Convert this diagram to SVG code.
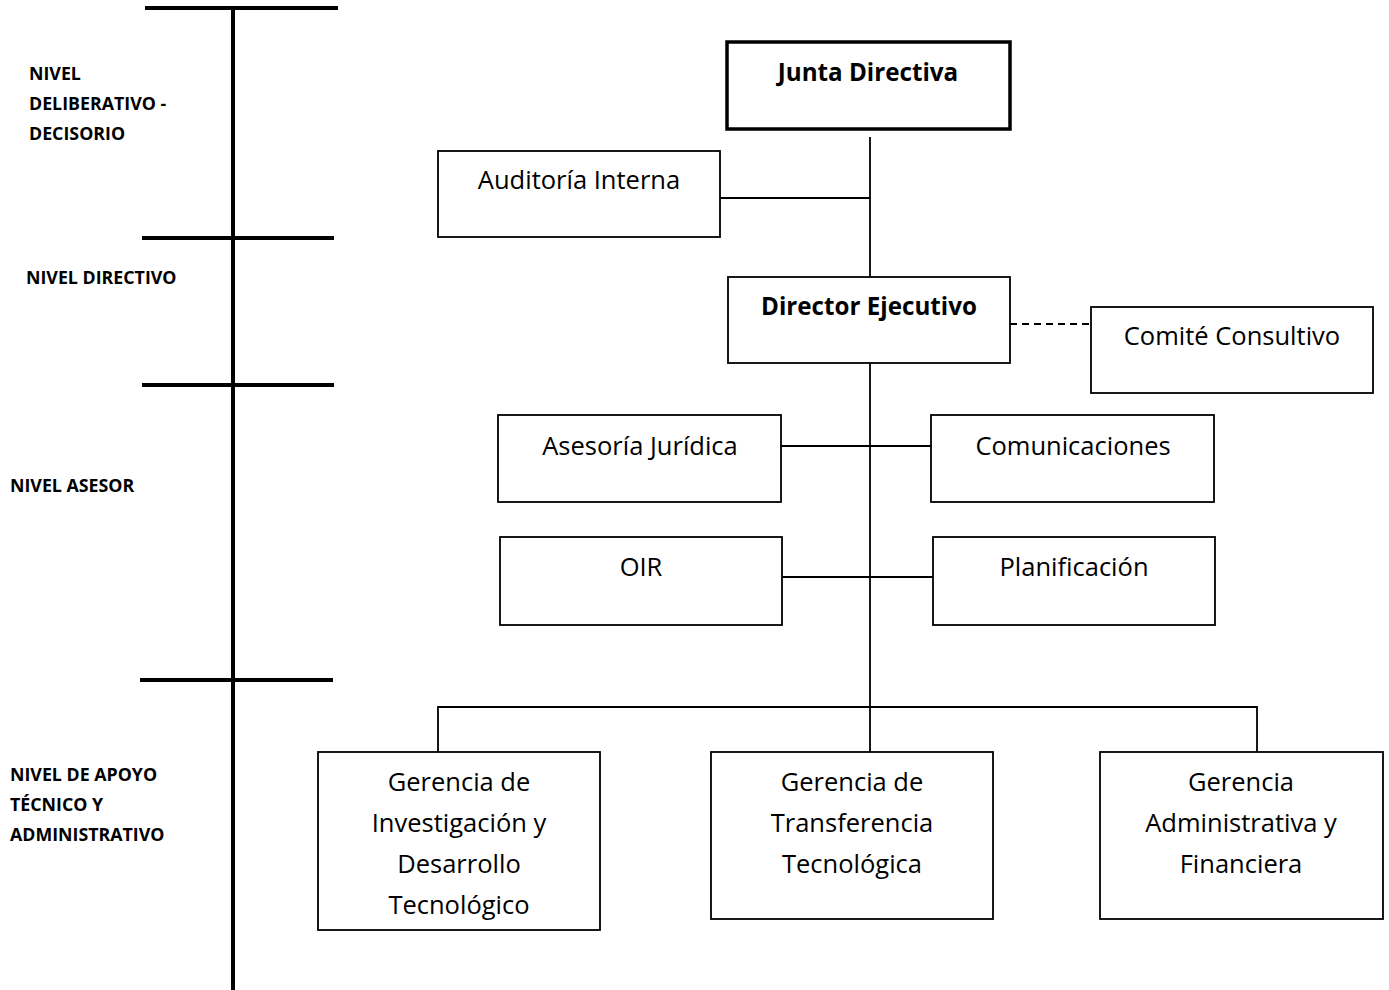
<svg xmlns="http://www.w3.org/2000/svg" width="1389" height="990" viewBox="0 0 1389 990">
<style>
.bg{fill:#fff}
.box{fill:#fff;stroke:#000;stroke-width:1.8}
.boxb{fill:#fff;stroke:#000;stroke-width:3.5}
.t{font-family:"Open Sans","Liberation Sans",sans-serif;font-size:25.5px;fill:#000;text-anchor:middle}
.tb{font-family:"Open Sans","Liberation Sans",sans-serif;font-size:24.2px;font-weight:bold;fill:#000;text-anchor:middle}
.lv{font-family:"Open Sans","Liberation Sans",sans-serif;font-size:17.8px;font-weight:bold;fill:#000}
.tl{stroke:#000;stroke-width:4;fill:none}
.c{stroke:#000;stroke-width:1.8;fill:none}
.d{stroke:#000;stroke-width:1.8;fill:none;stroke-dasharray:7,5}
</style>
<rect class="bg" x="0" y="0" width="1389" height="990"/>
<g id="timeline">
<line class="tl" x1="233" y1="8" x2="233" y2="990"/>
<line class="tl" x1="145" y1="8" x2="338" y2="8"/>
<line class="tl" x1="142" y1="238" x2="334" y2="238"/>
<line class="tl" x1="142" y1="385" x2="334" y2="385"/>
<line class="tl" x1="140" y1="680" x2="333" y2="680"/>
</g>
<g id="levels">
<text class="lv" x="29" y="80">NIVEL</text>
<text class="lv" x="29" y="110">DELIBERATIVO -</text>
<text class="lv" x="29" y="140">DECISORIO</text>
<text class="lv" x="26" y="284">NIVEL DIRECTIVO</text>
<text class="lv" x="10" y="492">NIVEL ASESOR</text>
<text class="lv" x="10" y="781">NIVEL DE APOYO</text>
<text class="lv" x="10" y="811">TÉCNICO Y</text>
<text class="lv" x="10" y="841">ADMINISTRATIVO</text>
</g>
<g id="connectors">
<line class="c" x1="870" y1="137" x2="870" y2="277"/>
<line class="c" x1="720" y1="198" x2="870" y2="198"/>
<line class="d" x1="1010" y1="324" x2="1091" y2="324"/>
<line class="c" x1="870" y1="363" x2="870" y2="756"/>
<line class="c" x1="781" y1="446" x2="931" y2="446"/>
<line class="c" x1="782" y1="577" x2="933" y2="577"/>
<polyline class="c" points="438,757 438,707 1257,707 1257,752"/>
</g>
<g id="junta"><rect class="boxb" x="727" y="42" width="283" height="87"/><text class="tb" x="868" y="81">Junta Directiva</text></g>
<g id="auditoria"><rect class="box" x="438" y="151" width="282" height="86"/><text class="t" x="579" y="189">Auditoría Interna</text></g>
<g id="director"><rect class="box" x="728" y="277" width="282" height="86"/><text class="tb" x="869" y="315">Director Ejecutivo</text></g>
<g id="comite"><rect class="box" x="1091" y="307" width="282" height="86"/><text class="t" x="1232" y="345">Comité Consultivo</text></g>
<g id="asesoria"><rect class="box" x="498" y="415" width="283" height="87"/><text class="t" x="640" y="455">Asesoría Jurídica</text></g>
<g id="comunicaciones"><rect class="box" x="931" y="415" width="283" height="87"/><text class="t" x="1073" y="455">Comunicaciones</text></g>
<g id="oir"><rect class="box" x="500" y="537" width="282" height="88"/><text class="t" x="641" y="576">OIR</text></g>
<g id="planificacion"><rect class="box" x="933" y="537" width="282" height="88"/><text class="t" x="1074" y="576">Planificación</text></g>
<g id="gerencia-id"><rect class="box" x="318" y="752" width="282" height="178"/>
<text class="t" x="459" y="791">Gerencia de</text><text class="t" x="459" y="832">Investigación y</text><text class="t" x="459" y="873">Desarrollo</text><text class="t" x="459" y="914">Tecnológico</text></g>
<g id="gerencia-tt"><rect class="box" x="711" y="752" width="282" height="167"/>
<text class="t" x="852" y="791">Gerencia de</text><text class="t" x="852" y="832">Transferencia</text><text class="t" x="852" y="873">Tecnológica</text></g>
<g id="gerencia-af"><rect class="box" x="1100" y="752" width="283" height="167"/>
<text class="t" x="1241" y="791">Gerencia</text><text class="t" x="1241" y="832">Administrativa y</text><text class="t" x="1241" y="873">Financiera</text></g>
</svg>
